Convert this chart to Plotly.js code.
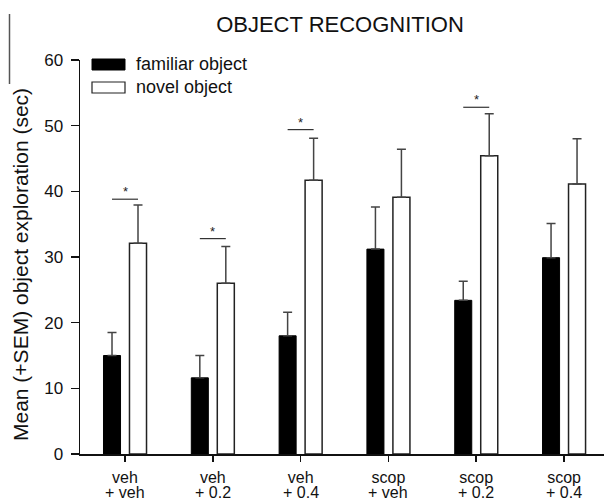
<!DOCTYPE html>
<html>
<head>
<meta charset="utf-8">
<script src="https://cdn.plot.ly/plotly-3.0.1.min.js"></script>
<style>html,body{margin:0;padding:0;background:#fff;}#chart{width:604px;height:502px;}</style>
</head>
<body>
<div id="chart"></div>
<script>
// ---- data ----
var catLine1 = ["veh", "veh", "veh", "scop", "scop", "scop"];
var catLine2 = ["+ veh", "+ 0.2", "+ 0.4", "+ veh", "+ 0.2", "+ 0.4"];
var familiarMean = [15.0, 11.6, 18.0, 31.2, 23.4, 29.9];
var familiarSEM  = [3.5, 3.4, 3.6, 6.4, 2.9, 5.2];
var novelMean    = [32.1, 26.0, 41.7, 39.1, 45.4, 41.1];
var novelSEM     = [5.8, 5.6, 6.4, 7.3, 6.4, 6.9];
var sigGroups    = [0, 1, 2, 4];
var sigLevels    = [38.8, 32.8, 49.4, 52.8];
var legendLabels = ["familiar object", "novel object"];
var titleText = "OBJECT RECOGNITION";
var yTitleText = "Mean (+SEM) object exploration (sec)";

var FONT = "Liberation Sans, Arial, Helvetica, sans-serif";
var BW = 0.194, OFF = 0.148;
var xs = catLine1.map(function(_, i){ return i; });
var zeros = catLine1.map(function(){ return 0; });

var familiar = {
  type: "bar", x: xs, y: familiarMean, width: BW, offset: -OFF - BW/2,
  marker: {color: "#000", line: {color: "#000", width: 1}},
  error_y: {type: "data", symmetric: false, array: familiarSEM, arrayminus: zeros,
            color: "#444", thickness: 1.5, width: 4.5},
  showlegend: false, hoverinfo: "none"
};
var novel = {
  type: "bar", x: xs, y: novelMean, width: BW, offset: OFF - BW/2,
  marker: {color: "#fff", line: {color: "#222", width: 1.5}},
  error_y: {type: "data", symmetric: false, array: novelSEM, arrayminus: zeros,
            color: "#444", thickness: 1.5, width: 4.5},
  showlegend: false, hoverinfo: "none"
};

var shapes = [], annotations = [];
sigGroups.forEach(function(g, k){
  shapes.push({type: "line", xref: "x", yref: "y", x0: g - OFF, x1: g + OFF,
               y0: sigLevels[k], y1: sigLevels[k], line: {color: "#333", width: 1.2}});
  annotations.push({xref: "x", yref: "y", x: g, y: sigLevels[k], text: "*", showarrow: false,
                    yanchor: "bottom", yshift: -2, font: {family: FONT, size: 13, color: "#222"}});
});
// second line of category labels
catLine2.forEach(function(t, i){
  annotations.push({xref: "x", yref: "paper", x: i, y: 0, yanchor: "middle", yshift: -38.5,
                    text: t, showarrow: false, font: {family: FONT, size: 16, color: "#111"}});
});
// legend drawn manually
shapes.push({type: "rect", xref: "paper", yref: "paper", x0: 12/524, x1: 45/524,
             y0: (454-70)/394, y1: (454-59)/394, fillcolor: "#000", line: {color: "#000", width: 1}});
shapes.push({type: "rect", xref: "paper", yref: "paper", x0: 12/524, x1: 45/524,
             y0: (454-93)/394, y1: (454-82)/394, fillcolor: "#fff", line: {color: "#222", width: 1.2}});
annotations.push({xref: "paper", yref: "paper", x: 54/524, y: (454-64)/394, xanchor: "left", yanchor: "middle",
                  text: legendLabels[0], showarrow: false, font: {family: FONT, size: 18, color: "#111"}});
annotations.push({xref: "paper", yref: "paper", x: 54/524, y: (454-87)/394, xanchor: "left", yanchor: "middle",
                  text: legendLabels[1], showarrow: false, font: {family: FONT, size: 18, color: "#111"}});
// y-axis title
annotations.push({xref: "paper", yref: "paper", x: (20-80)/524, y: (454-265)/394, xanchor: "center", yanchor: "middle",
                  textangle: -90, text: yTitleText, showarrow: false, font: {family: FONT, size: 21, color: "#111"}});
// stray border line at far left
shapes.push({type: "line", xref: "paper", yref: "paper", x0: -70.5/524, x1: -70.5/524,
             y0: (454-14)/394, y1: (454-84)/394, line: {color: "#555", width: 1.5}});

var layout = {
  width: 604, height: 502,
  margin: {l: 80, r: 0, t: 60, b: 48},
  paper_bgcolor: "#fff", plot_bgcolor: "#fff",
  font: {family: FONT, color: "#111"},
  title: {text: titleText, xref: "container", x: 340/604, xanchor: "center",
          yref: "container", y: 1 - 24/502, yanchor: "middle",
          font: {family: FONT, size: 22, color: "#111"}},
  xaxis: {range: [-0.5125, 5.455], tickmode: "array", tickvals: xs, ticktext: catLine1,
          showline: true, linecolor: "#111", linewidth: 1.5, ticks: "outside", ticklen: 6,
          tickcolor: "#111", tickwidth: 1.5, showgrid: false, zeroline: false,
          ticklabelstandoff: 2,
          tickfont: {family: FONT, size: 16, color: "#111"}},
  yaxis: {range: [0, 60], tickvals: [0, 10, 20, 30, 40, 50, 60],
          showline: true, linecolor: "#111", linewidth: 1.5, ticks: "outside", ticklen: 8,
          tickcolor: "#111", tickwidth: 1.5, showgrid: false, zeroline: false,
          ticklabelstandoff: 4,
          tickfont: {family: FONT, size: 17, color: "#111"}},
  shapes: shapes, annotations: annotations,
  bargap: 0, showlegend: false
};

Plotly.newPlot("chart", [familiar, novel], layout, {staticPlot: true});
</script>
</body>
</html>
